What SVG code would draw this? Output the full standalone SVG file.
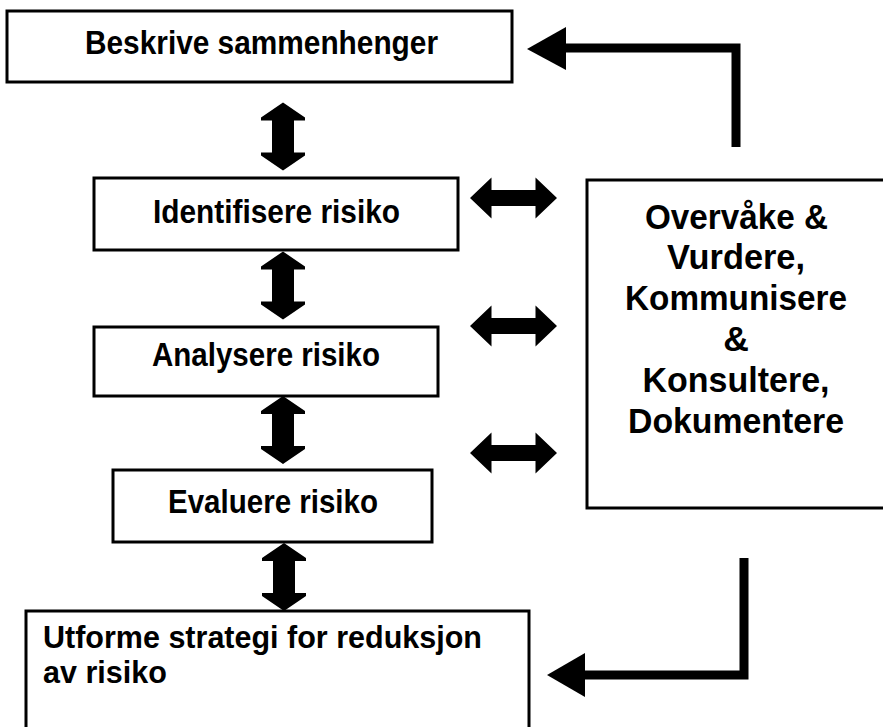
<svg xmlns="http://www.w3.org/2000/svg" width="883" height="727" viewBox="0 0 883 727">
<style>
.box{fill:#fff;stroke:#000;stroke-width:3}
.t{font-family:"Liberation Sans",Arial,sans-serif;font-weight:bold;fill:#000}
.line{fill:none;stroke:#000;stroke-width:9;stroke-linejoin:miter}
.head{fill:#000}
</style>
<defs>
<path id="vda" d="M0,-34 L22,-19 L22,-16 L11,-16 L11,16 L22,16 L22,19 L0,34 L-22,19 L-22,16 L-11,16 L-11,-16 L-22,-16 L-22,-19 Z"/>
<path id="hda" d="M-43.5,0 L-22,-20.5 L-22,-8 L22,-8 L22,-20.5 L43.5,0 L22,20.5 L22,8 L-22,8 L-22,20.5 Z"/>
</defs>
<rect width="883" height="727" fill="#fff"/>
<g id="connectors">
<use href="#vda" x="283" y="136.5"/>
<use href="#vda" x="283" y="285.5"/>
<use href="#vda" x="283" y="430"/>
<use href="#vda" x="284" y="577"/>
<use href="#hda" x="513.5" y="198"/>
<use href="#hda" x="513.5" y="326"/>
<use href="#hda" x="513.5" y="453"/>
<path class="line" d="M736,147 V48 H560"/>
<polygon class="head" points="527,49 566,27 566,70"/>
<path class="line" d="M744,558 V675 H580"/>
<polygon class="head" points="547,675 585,653 585,697"/>
</g>
<g id="n1">
<rect class="box" x="7" y="11" width="505" height="71"/>
<text class="t" x="261.5" y="54" font-size="33" text-anchor="middle" textLength="353" lengthAdjust="spacingAndGlyphs">Beskrive sammenhenger</text>
</g>
<g id="n2">
<rect class="box" x="94" y="178" width="364" height="72"/>
<text class="t" x="276.5" y="223" font-size="33" text-anchor="middle" textLength="247" lengthAdjust="spacingAndGlyphs">Identifisere risiko</text>
</g>
<g id="n3">
<rect class="box" x="94" y="327" width="344" height="69"/>
<text class="t" x="266" y="366" font-size="33" text-anchor="middle" textLength="228" lengthAdjust="spacingAndGlyphs">Analysere risiko</text>
</g>
<g id="n4">
<rect class="box" x="113" y="470" width="319" height="72"/>
<text class="t" x="273" y="513" font-size="33" text-anchor="middle" textLength="210" lengthAdjust="spacingAndGlyphs">Evaluere risiko</text>
</g>
<g id="n5">
<rect class="box" x="26" y="611" width="503" height="130"/>
<text class="t" x="43" y="648" font-size="30.5">Utforme strategi for reduksjon</text>
<text class="t" x="43" y="683" font-size="30.5">av risiko</text>
</g>
<g id="n6">
<rect class="box" x="587" y="180" width="310" height="328"/>
<g class="t" font-size="35.5" text-anchor="middle">
<text x="736.5" y="229" textLength="183" lengthAdjust="spacingAndGlyphs">Overvåke &amp;</text>
<text x="736" y="269" textLength="138" lengthAdjust="spacingAndGlyphs">Vurdere,</text>
<text x="736" y="310" textLength="222" lengthAdjust="spacingAndGlyphs">Kommunisere</text>
<text x="736" y="351">&amp;</text>
<text x="736" y="392" textLength="187" lengthAdjust="spacingAndGlyphs">Konsultere,</text>
<text x="736" y="433" textLength="216" lengthAdjust="spacingAndGlyphs">Dokumentere</text>
</g>
</g>
</svg>
